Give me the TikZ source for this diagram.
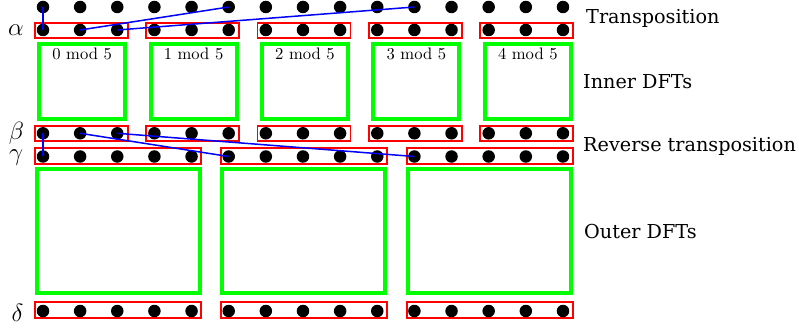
\documentclass[tikz,border=0pt]{standalone}
\usepackage{fontspec}
\newfontfamily\labelfont{DejaVu Serif}
\newfontfamily\modfont{lmroman10-regular}[Extension=.otf]
\begin{document}
\begin{tikzpicture}[x=1pt,y=-1pt,
  dot/.style={circle,fill=black,minimum size=12.5pt,inner sep=0pt},
  redbox/.style={draw=red,line width=1.8pt,rectangle,inner sep=0pt},
  smallred/.style={redbox,minimum width=93pt,minimum height=15pt},
  bigred/.style={redbox,minimum width=166pt,minimum height=16pt},
  greenbox/.style={draw=green,line width=4pt,rectangle,inner sep=0pt},
  innerdft/.style={greenbox,minimum width=86pt,minimum height=75pt},
  outerdft/.style={greenbox,minimum width=163pt,minimum height=123.5pt},
  blueline/.style={draw=blue,line width=1.5pt},
  modtext/.style={anchor=base,inner sep=0pt,font=\modfont\fontsize{16.6}{20}\selectfont},
  sidelabel/.style={anchor=base west,inner sep=0pt,font=\labelfont\fontsize{19.2}{23}\selectfont},
  greek/.style={anchor=center,inner sep=0pt,font=\fontsize{23}{27}\selectfont}
]
\useasboundingbox (0,0) rectangle (799,331);
% red boxes, groups of 3, and inner DFTs
\foreach \k in {0,...,4}{
  \pgfmathsetmacro{\cx}{43+37.14*(3*\k+1)+1}
  \node[smallred] (ra\k) at (\cx,30.5) {};
  \node[smallred] (rb\k) at (\cx,133.5) {};
  \pgfmathsetmacro{\gx}{43+37.14*(3*\k+1)+2}
  \node[innerdft] (in\k) at (\gx,81.7) {};
  \node[modtext] (mt\k) at (\gx,60) {\k{} mod 5};
}
% red boxes, groups of 5, and outer DFTs
\foreach \k in {0,1,2}{
  \pgfmathsetmacro{\cx}{43+37.14*(5*\k+2)+1}
  \node[bigred] (rg\k) at (\cx,156) {};
  \node[bigred] (rd\k) at (\cx,310) {};
  \node[outerdft] (out\k) at (\cx,231.2) {};
}
% dots
\foreach \i in {0,...,14}{
  \pgfmathsetmacro{\dx}{43+37.14*\i}
  \node[dot] (t\i) at (\dx,7) {};
  \node[dot] (a\i) at (\dx,30) {};
  \node[dot] (b\i) at (\dx,133.3) {};
  \node[dot] (g\i) at (\dx,156.5) {};
  \node[dot] (d\i) at (\dx,311) {};
}
% blue connectors
\draw[blueline] (t0.center) -- (a0.center);
\draw[blueline] (a1.center) -- (t5.center);
\draw[blueline] (a2.center) -- (t10.center);
\draw[blueline] (b0.center) -- (g0.center);
\draw[blueline] (b1.center) -- (g5.center);
\draw[blueline] (b2.center) -- (g10.center);
% greek labels
\node[greek] (alpha) at (16,30) {$\alpha$};
\node[greek] (beta) at (16.5,133) {$\beta$};
\node[greek] (gamma) at (16,157.5) {$\gamma$};
\node[greek] (delta) at (17.5,313) {$\delta$};
% side labels
\node[sidelabel] (lt) at (586,24) {Transposition};
\node[sidelabel] (li) at (583,89) {Inner DFTs};
\node[sidelabel] (lr) at (583,152) {Reverse transposition};
\node[sidelabel] (lo) at (584,238) {Outer DFTs};
\end{tikzpicture}
\end{document}
